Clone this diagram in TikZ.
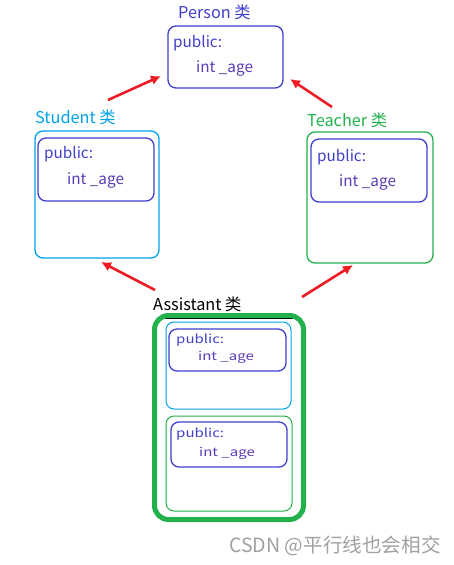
\documentclass[tikz,border=0pt]{standalone}
\usepackage{fontspec}
\setmainfont{Noto Sans CJK SC}
\newfontfamily\widefont[FakeStretch=1.25]{Noto Sans CJK SC}
\usetikzlibrary{arrows.meta}
\definecolor{personblue}{HTML}{3F3FCC}
\definecolor{fieldpurple}{HTML}{5A3CB4}
\definecolor{studentcyan}{HTML}{00A2E8}
\definecolor{teachergreen}{HTML}{22B14C}
\definecolor{arrowred}{HTML}{ED1C24}
\definecolor{markgray}{HTML}{A0A0A0}

\begin{document}
\begin{tikzpicture}[x = 1pt, y = -1pt]
\tikzset{ClassBox/.style = {draw, rounded corners = 8pt,
                            inner sep = 0pt,
                            line width = 1.3pt},
         ClassName/.style = {anchor = base west, inner sep = 0pt,
                             font = \fontsize{16.3}{19}\selectfont},
         Field/.style = {anchor = base west, inner sep = 0pt,
                         font = \fontsize{15.3}{18}\selectfont},
         SmallField/.style = {anchor = base west, inner sep = 0pt,
                              font = \widefont\fontsize{12}{14}\selectfont},
         Inherit/.style = {draw = arrowred, line width = 2.6pt,
                           -{Latex[length = 10pt, width = 10pt]}}}
\useasboundingbox (0, 0) rectangle (453, 565);

% Person
\node[ClassName, text = personblue] (personname) at (178, 18) {Person 类};
\node[ClassBox, draw = personblue, minimum width = 115pt, minimum height = 62pt] (person) at (225.5, 57) {};
\node[Field, text = personblue] (personpub) at (173, 47) {public:};
\node[Field, text = fieldpurple] (personage) at (196, 72) {int \_age};

% Student
\node[ClassName, text = studentcyan] (studentname) at (35, 123) {Student 类};
\node[ClassBox, draw = studentcyan, minimum width = 124pt, minimum height = 127pt] (student) at (97, 194.5) {};
\node[ClassBox, draw = personblue, minimum width = 116pt, minimum height = 63pt] (studentbase) at (96, 169.5) {};
\node[Field, text = personblue] (studentpub) at (44, 158) {public:};
\node[Field, text = fieldpurple] (studentage) at (67, 184) {int \_age};

% Teacher
\node[ClassName, text = teachergreen] (teachername) at (307, 126) {Teacher 类};
\node[ClassBox, draw = teachergreen, minimum width = 126pt, minimum height = 131pt] (teacher) at (370, 197.5) {};
\node[ClassBox, draw = personblue, minimum width = 116pt, minimum height = 63pt] (teacherbase) at (369, 170.5) {};
\node[Field, text = personblue] (teacherpub) at (317, 161) {public:};
\node[Field, text = fieldpurple] (teacherage) at (339, 186) {int \_age};

% Assistant
\node[ClassName, text = black] (assistantname) at (153, 310) {Assistant 类};
\draw[line width = 0.6pt] (162, 318) -- (297, 318);
\node[ClassBox, draw = teachergreen, line width = 5pt, rounded corners = 14pt, minimum width = 149pt, minimum height = 204pt] (assistant) at (229, 417.5) {};
\node[ClassBox, draw = studentcyan, line width = 1pt, minimum width = 125pt, minimum height = 87pt] (astudent) at (228.5, 365.5) {};
\node[ClassBox, draw = personblue, minimum width = 117pt, minimum height = 42pt] (astudentbase) at (227.5, 350) {};
\node[SmallField, text = personblue] (astudentpub) at (176, 343) {public:};
\node[SmallField, text = fieldpurple] (astudentage) at (198, 360) {int \_age};
\node[ClassBox, draw = teachergreen, line width = 1pt, minimum width = 126pt, minimum height = 95pt] (ateacher) at (229, 463.5) {};
\node[ClassBox, draw = personblue, minimum width = 116pt, minimum height = 45pt] (ateacherbase) at (229, 444.5) {};
\node[SmallField, text = personblue] (ateacherpub) at (176, 437) {public:};
\node[SmallField, text = fieldpurple] (ateacherage) at (199, 456) {int \_age};

% inheritance arrows
\coordinate (s1) at (108, 100);
\coordinate (p1) at (161, 76);
\coordinate (t1) at (332, 107);
\coordinate (p2) at (290, 79);
\coordinate (a1) at (155, 290);
\coordinate (s2) at (101, 262);
\coordinate (a2) at (302, 297);
\coordinate (t2) at (353, 265);
\draw[Inherit] (s1) -- (p1);
\draw[Inherit] (t1) -- (p2);
\draw[Inherit] (a1) -- (s2);
\draw[Inherit] (a2) -- (t2);

\node[anchor = base west, inner sep = 0pt, text = markgray, font = \fontsize{19.6}{22}\selectfont] (mark) at (229, 552) {CSDN @平行线也会相交};
\end{tikzpicture}
\end{document}
